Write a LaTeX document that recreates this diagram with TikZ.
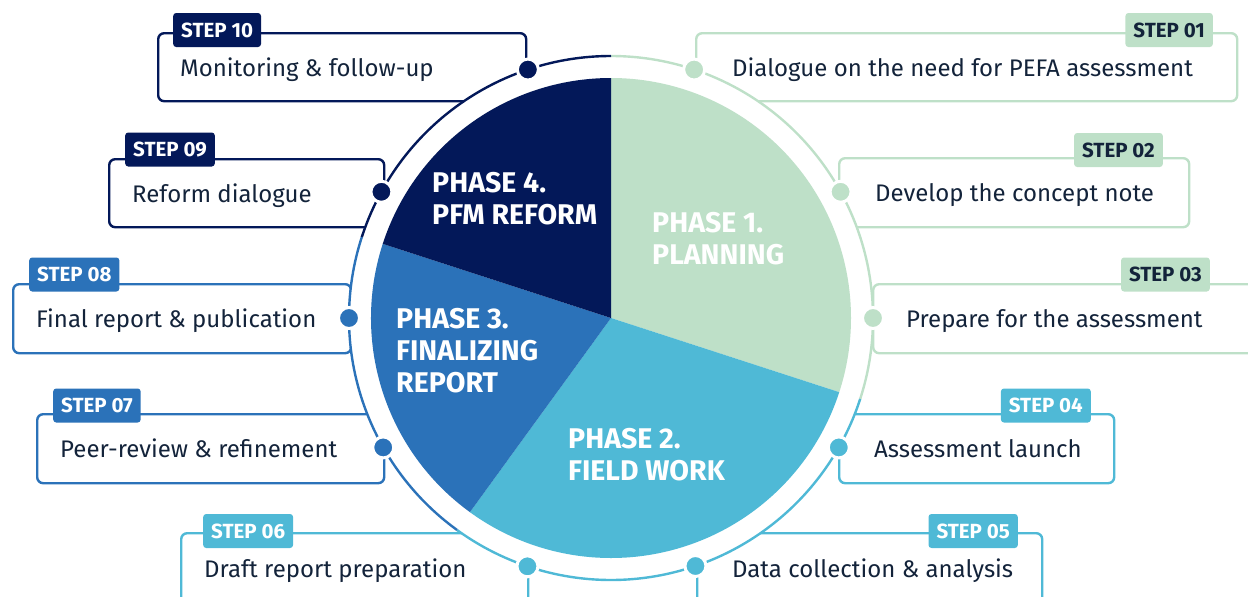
\documentclass[tikz,border=0pt]{standalone}
\usepackage{fontspec}
\setmainfont{Fira Sans}

\definecolor{planning}{HTML}{BEE0C8}
\definecolor{fieldwork}{HTML}{4FB9D6}
\definecolor{finalizing}{HTML}{2B72B9}
\definecolor{reform}{HTML}{031859}
\definecolor{ink}{HTML}{13233A}

\tikzset{
  stepframe/.style={draw=#1, line width=2.4pt, rounded corners=6pt, inner sep=0pt, anchor=north west},
  steptag/.style 2 args={fill=#1, text=#2, rounded corners=3pt, inner xsep=8pt, inner ysep=0pt,
    minimum height=34pt, font=\bfseries\fontsize{20.5}{22}\selectfont},
  steptext/.style={text=ink, inner sep=0pt, anchor=base west, font=\fontsize{24}{27}\selectfont},
  stepdot/.style={circle, fill=#1, draw=white, line width=3pt, minimum size=21pt, inner sep=0pt},
  ringarc/.style={draw=#1, line width=2.4pt},
  phasetext/.style={text=white, inner sep=0pt, anchor=north west, align=left,
    font=\bfseries\fontsize{28.5}{32}\selectfont},
}

\begin{document}
\begin{tikzpicture}[x=1pt, y=-1pt]
    \clip (0,0) rectangle (1248,597);
    % Step frames, drawn first so the ring cuts them off
    \node[stepframe=reform, minimum width=368pt, minimum height=68pt] (frame10) at (157,32) {};
    \node[stepframe=reform, minimum width=275pt, minimum height=68pt] (frame09) at (108,158) {};
    \node[stepframe=finalizing, minimum width=338pt, minimum height=69pt] (frame08) at (12,283) {};
    \node[stepframe=finalizing, minimum width=347pt, minimum height=69pt] (frame07) at (36,413) {};
    \node[stepframe=fieldwork, minimum width=347pt, minimum height=110pt] (frame06) at (180,532) {};
    \node[stepframe=fieldwork, minimum width=345pt, minimum height=110pt] (frame05) at (696,532) {};
    \node[stepframe=fieldwork, minimum width=275pt, minimum height=69pt] (frame04) at (838,413) {};
    \node[stepframe=planning, minimum width=430pt, minimum height=69pt] (frame03) at (872,283) {};
    \node[stepframe=planning, minimum width=350pt, minimum height=69pt] (frame02) at (838,157) {};
    \node[stepframe=planning, minimum width=541pt, minimum height=68pt] (frame01) at (695,32) {};

    \begin{scope}[shift={(611,318)}, yscale=-1]
        % white ring area hides the frame ends
        \fill[white] (0,0) circle[radius=262];
        % outer ring, one arc per phase
        \draw[ringarc=planning] (90:262) arc[start angle=90, end angle=-18, radius=262];
        \draw[ringarc=fieldwork] (-18:262) arc[start angle=-18, end angle=-126, radius=262];
        \draw[ringarc=finalizing] (-126:262) arc[start angle=-126, end angle=-198, radius=262];
        \draw[ringarc=reform] (162:262) arc[start angle=162, end angle=90, radius=262];
        % pie wedges
        \fill[planning] (0,0) -- (90:240) arc[start angle=90, end angle=-18, radius=240] -- cycle;
        \fill[fieldwork] (0,0) -- (-18:240) arc[start angle=-18, end angle=-126, radius=240] -- cycle;
        \fill[finalizing] (0,0) -- (-126:240) arc[start angle=-126, end angle=-198, radius=240] -- cycle;
        \fill[reform] (0,0) -- (162:240) arc[start angle=162, end angle=90, radius=240] -- cycle;
        % step dots on the ring
        \node[stepdot=planning] (dot01) at (71.5:262) {};
        \node[stepdot=planning] (dot02) at (28.8:262) {};
        \node[stepdot=planning] (dot03) at (0:262) {};
        \node[stepdot=fieldwork] (dot04) at (-29.6:262) {};
        \node[stepdot=fieldwork] (dot05) at (-71.2:262) {};
        \node[stepdot=fieldwork] (dot06) at (-108.6:262) {};
        \node[stepdot=finalizing] (dot07) at (-150.4:262) {};
        \node[stepdot=finalizing] (dot08) at (180:262) {};
        \node[stepdot=reform] (dot09) at (151.2:262) {};
        \node[stepdot=reform] (dot10) at (108.5:262) {};
    \end{scope}

    % Phase names
    \node[phasetext] (phase1) at (652,212) {PHASE 1.\\PLANNING};
    \node[phasetext] (phase2) at (568,428) {PHASE 2.\\FIELD WORK};
    \node[phasetext] (phase3) at (396,308) {PHASE 3.\\FINALIZING\\REPORT};
    \node[phasetext] (phase4) at (432,172) {PHASE 4.\\PFM REFORM};

    % Step texts
    \node[steptext] (text01) at (732,76) {Dialogue on the need for PEFA assessment};
    \node[steptext] (text02) at (875,201) {Develop the concept note};
    \node[steptext] (text03) at (906,327) {Prepare for the assessment};
    \node[steptext] (text04) at (874,457) {Assessment launch};
    \node[steptext] (text05) at (732,577) {Data collection \& analysis};
    \node[steptext] (text06) at (204,577) {Draft report preparation};
    \node[steptext] (text07) at (60,457) {Peer-review \& refinement};
    \node[steptext] (text08) at (36,327) {Final report \& publication};
    \node[steptext] (text09) at (132,202) {Reform dialogue};
    \node[steptext] (text10) at (180,76) {Monitoring \& follow-up};

    % Step tags on the frame tops
    \node[steptag={planning}{ink}, anchor=east] (tag01) at (1213,30) {STEP 01};
    \node[steptag={planning}{ink}, anchor=east] (tag02) at (1163,150) {STEP 02};
    \node[steptag={planning}{ink}, anchor=east] (tag03) at (1210,274.5) {STEP 03};
    \node[steptag={fieldwork}{white}, anchor=east] (tag04) at (1091,405.5) {STEP 04};
    \node[steptag={fieldwork}{white}, anchor=east] (tag05) at (1018,531) {STEP 05};
    \node[steptag={fieldwork}{white}, anchor=west] (tag06) at (203,531) {STEP 06};
    \node[steptag={finalizing}{white}, anchor=west] (tag07) at (53,405.5) {STEP 07};
    \node[steptag={finalizing}{white}, anchor=west] (tag08) at (29,274.5) {STEP 08};
    \node[steptag={reform}{white}, anchor=west] (tag09) at (125,149.5) {STEP 09};
    \node[steptag={reform}{white}, anchor=west] (tag10) at (173,30) {STEP 10};
\end{tikzpicture}
\end{document}
